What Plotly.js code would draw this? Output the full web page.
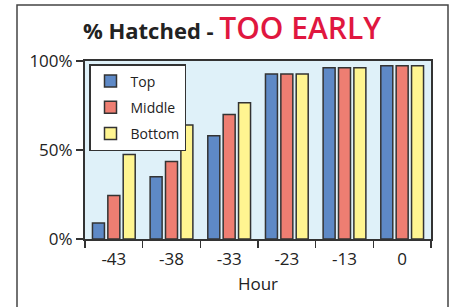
<!DOCTYPE html>
<html><head><meta charset="utf-8">
<script src="https://cdn.plot.ly/plotly-3.0.1.min.js"></script>
<style>html,body{margin:0;padding:0;background:#fff}#c{width:450px;height:307px}</style>
</head><body><div id="c"></div>
<script>
const hours = ["-43", "-38", "-33", "-23", "-13", "0"];
const topVals = [9, 35, 58, 92.7, 96.2, 97.4];
const middleVals = [24.5, 43.5, 70, 92.7, 96.2, 97.4];
const bottomVals = [47.5, 64, 76.5, 92.7, 96.2, 97.4];
const seriesNames = ["Top", "Middle", "Bottom"];
const colors = ["#5E89C6", "#EE7E72", "#FFF591"];

const F = "Open Sans, DejaVu Sans, sans-serif";
const vals = [topVals, middleVals, bottomVals];
const traces = vals.map((v, i) => ({
  type: "bar", x: hours, y: v, name: seriesNames[i], legendgroup: "g" + i,
  marker: {color: colors[i], line: {color: "#333", width: 1.5}}
}));

const L = 85, R = 19, T = 61, B = 68, PW = 450 - L - R, PH = 307 - T - B;
const layout = {
  width: 450, height: 307,
  margin: {l: L, r: R, t: T, b: B},
  paper_bgcolor: "#fff", plot_bgcolor: "#DFF1F9",
  barmode: "group", bargap: 0.2, bargroupgap: 0.22,
  font: {family: F, color: "#222", size: 16},
  title: {
    text: "<b>% Hatched - </b><span style='color:#E0173F;font-size:30px;font-weight:600'>TOO EARLY</span>",
    font: {family: F, size: 22, color: "#222"},
    x: 232 / 450, xanchor: "center", xref: "container",
    y: 1 - 31 / 307, yanchor: "middle", yref: "container"
  },
  xaxis: {
    type: "category", tickson: "boundaries", ticks: "outside", ticklen: 7,
    tickcolor: "#333", tickwidth: 1.5, showline: true, linecolor: "#333", linewidth: 2,
    mirror: true, showgrid: false, ticklabelstandoff: 4,
    title: {text: "Hour", font: {family: F, size: 17, color: "#222"}, standoff: 9},
    tickfont: {family: F, size: 17, color: "#222"}
  },
  yaxis: {
    range: [0, 100], tickvals: [0, 50, 100], ticktext: ["0%", "50%", "100%"],
    ticks: "outside", ticklen: 7, tickcolor: "#333", tickwidth: 1.5,
    showline: true, linecolor: "#333", linewidth: 2, mirror: true,
    showgrid: false, zeroline: false,
    tickfont: {family: F, size: 17, color: "#222"}
  },
  legend: {
    x: (89 - L) / PW, y: (239 - 64) / PH, xanchor: "left", yanchor: "top",
    bgcolor: "#fff", bordercolor: "#333", borderwidth: 1.5, itemwidth: 30,
    font: {family: F, size: 14, color: "#222"}, tracegroupgap: 5, traceorder: "grouped"
  },
  shapes: [{
    type: "rect", xref: "paper", yref: "paper",
    x0: (17 - L) / PW, x1: (448 - L) / PW,
    y0: (239 - 312) / PH, y1: (239 - 5) / PH,
    line: {color: "#444", width: 1.5}, fillcolor: "rgba(0,0,0,0)", layer: "below"
  }],
  showlegend: true
};
Plotly.newPlot("c", traces, layout, {staticPlot: true});
</script></body></html>
